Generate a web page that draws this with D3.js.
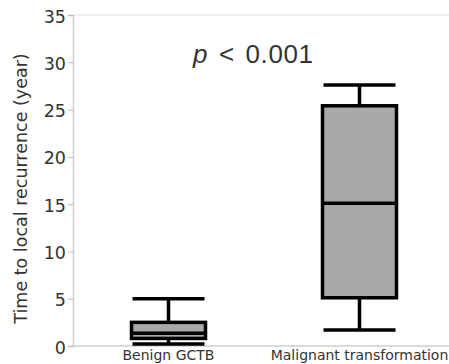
<!DOCTYPE html>
<html>
<head>
<meta charset="utf-8">
<script src="https://cdn.jsdelivr.net/npm/d3@7"></script>
<style>
  body { margin: 0; background: #fff; }
  svg { display: block; }
</style>
</head>
<body>
<div id="chart"></div>
<script>
// box stats (years)
const groups = ['Benign GCTB', 'Malignant transformation'];
const mins = [0.2, 1.7];
const q1s = [0.8, 5.1];
const medians = [1.35, 15.1];
const q3s = [2.5, 25.4];
const maxs = [5.0, 27.6];
const yTicks = [0, 5, 10, 15, 20, 25, 30, 35];

const width = 449, height = 364;
const plotLeft = 73, plotTop = 15, plotBottom = 346;

const svg = d3.select('#chart').append('svg')
  .attr('width', width)
  .attr('height', height);

const y = d3.scaleLinear().domain([0, 35]).range([plotBottom, plotTop]);
const x = d3.scaleBand().domain(groups).range([plotLeft, 455]);

// frame lines
svg.append('line')
  .attr('x1', plotLeft).attr('x2', width)
  .attr('y1', plotBottom).attr('y2', plotBottom)
  .attr('stroke', '#cfcfcf').attr('stroke-width', 1.5);
svg.append('line')
  .attr('x1', plotLeft).attr('x2', width)
  .attr('y1', plotTop).attr('y2', plotTop)
  .attr('stroke', '#e2e2e2').attr('stroke-width', 1);

const yAxis = svg.append('g')
  .attr('transform', `translate(${plotLeft},0)`)
  .call(d3.axisLeft(y).tickValues(yTicks).tickSize(5).tickPadding(2));
yAxis.select('.domain').attr('stroke', '#cfcfcf').attr('stroke-width', 1.5);
yAxis.selectAll('.tick line').attr('stroke', '#bdbdbd');
yAxis.selectAll('.tick text')
  .attr('fill', '#333')
  .attr('dy', '0.4em')
  .style('font-family', '"DejaVu Sans", Verdana, sans-serif')
  .style('font-size', '17.5px');

// y title
svg.append('text')
  .attr('transform', `translate(27,${(plotTop + plotBottom) / 2 + 8}) rotate(-90)`)
  .attr('text-anchor', 'middle')
  .attr('fill', '#333')
  .style('font-family', '"DejaVu Sans", Verdana, sans-serif')
  .style('font-size', '17.5px')
  .text('Time to local recurrence (year)');

// category labels
svg.selectAll('.cat')
  .data(groups)
  .enter().append('text')
  .attr('class', 'cat')
  .attr('x', d => x(d) + x.bandwidth() / 2)
  .attr('y', 360)
  .attr('text-anchor', 'middle')
  .attr('fill', '#333')
  .style('font-family', '"DejaVu Sans", Verdana, sans-serif')
  .style('font-size', '14px')
  .text(d => d);

const boxW = 74, capW = 72;
const g = svg.selectAll('.box')
  .data(groups)
  .enter().append('g')
  .attr('class', 'box')
  .attr('transform', d => `translate(${x(d) + x.bandwidth() / 2},0)`);

// whiskers
g.append('line')
  .attr('y1', (d, i) => y(mins[i])).attr('y2', (d, i) => y(maxs[i]))
  .attr('stroke', '#000').attr('stroke-width', 3.5);
g.append('line')
  .attr('x1', -capW / 2).attr('x2', capW / 2)
  .attr('y1', (d, i) => y(maxs[i])).attr('y2', (d, i) => y(maxs[i]))
  .attr('stroke', '#000').attr('stroke-width', 3.5);
g.append('line')
  .attr('x1', -capW / 2).attr('x2', capW / 2)
  .attr('y1', (d, i) => y(mins[i])).attr('y2', (d, i) => y(mins[i]))
  .attr('stroke', '#000').attr('stroke-width', 3.5);

// box
g.append('rect')
  .attr('x', -boxW / 2)
  .attr('width', boxW)
  .attr('y', (d, i) => y(q3s[i]))
  .attr('height', (d, i) => y(q1s[i]) - y(q3s[i]))
  .attr('fill', '#a9a9a9')
  .attr('stroke', '#000').attr('stroke-width', 3.5);
g.append('line')
  .attr('x1', -boxW / 2).attr('x2', boxW / 2)
  .attr('y1', (d, i) => y(medians[i])).attr('y2', (d, i) => y(medians[i]))
  .attr('stroke', '#000').attr('stroke-width', 3.5);

// p value
const p = svg.append('text')
  .attr('x', 193).attr('y', 63)
  .attr('fill', '#333')
  .style('font-family', '"Liberation Sans", Arial, sans-serif')
  .style('font-size', '26px')
  .style('letter-spacing', '0.6px')
  .style('word-spacing', '3px');
p.append('tspan').style('font-style', 'italic').text('p');
p.append('tspan').text(' < 0.001');
</script>
</body>
</html>
